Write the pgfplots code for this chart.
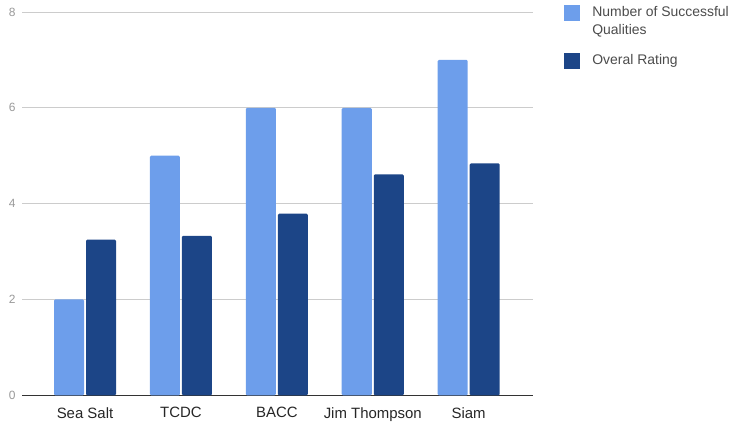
\documentclass[border=0pt]{standalone}
\usepackage{fontspec}
\setmainfont{Liberation Sans}
\usepackage{pgfplots}
\pgfplotsset{compat=1.18}
\definecolor{lightb}{HTML}{6D9EEB}
\definecolor{darkb}{HTML}{1C4587}
\pgfplotsset{
  legup/.style={legend image code/.code={\fill[##1,sharp corners] (0bp,0.5bp) rectangle (16bp,16.5bp); \path (26bp,0bp);}},
  legmid/.style={legend image code/.code={\fill[##1,sharp corners] (0bp,-8bp) rectangle (16bp,8bp); \path (26bp,0bp);}},
}
\begin{document}
\begin{tikzpicture}[x=1bp,y=1bp]
\path[use as bounding box] (-22,-28) rectangle (722,395.3);
\begin{axis}[
  at={(0,0)}, anchor=south west,
  scale only axis, width=511bp, height=383.3bp,
  xmin=-0.657, xmax=4.671, ymin=0, ymax=8,
  ybar=2bp, bar width=30bp,
  xtick={0,...,4}, xticklabels={Sea Salt,TCDC,BACC,Jim Thompson,Siam},
  ytick={0,2,4,6,8},
  axis line style={draw=none},
  major tick length=0pt,
  ymajorgrids, grid style={draw=black!20, line width=0.8bp},
  extra y ticks={0}, extra y tick labels={},
  extra y tick style={grid style={draw=black!80, line width=1bp}},
  yticklabel style={font=\fontsize{12}{14}\selectfont, text=black!40, xshift=-3bp},
  xticklabel style={font=\fontsize{15}{18}\selectfont, text=black!85, yshift=-8.5bp},
  /pgf/number format/assume math mode=true,
  legend style={draw=none, at={(1.061,1.02)}, anchor=north west, inner sep=0pt,
    font=\fontsize{14}{17.5}\selectfont, text=black!70,
    cells={align=left, anchor=west}, row sep=15bp},
]
\addplot[fill=lightb, draw=none, rounded corners=1.2bp, legup]
  coordinates {(0,2) (1,5) (2,6) (3,6) (4,7)};
\addlegendentry{Number of Successful\\Qualities}
\addplot[fill=darkb, draw=none, rounded corners=1.2bp, legmid]
  coordinates {(0,3.25) (1,3.33) (2,3.79) (3,4.61) (4,4.84)};
\addlegendentry{Overal Rating}
\end{axis}
\end{tikzpicture}
\end{document}
